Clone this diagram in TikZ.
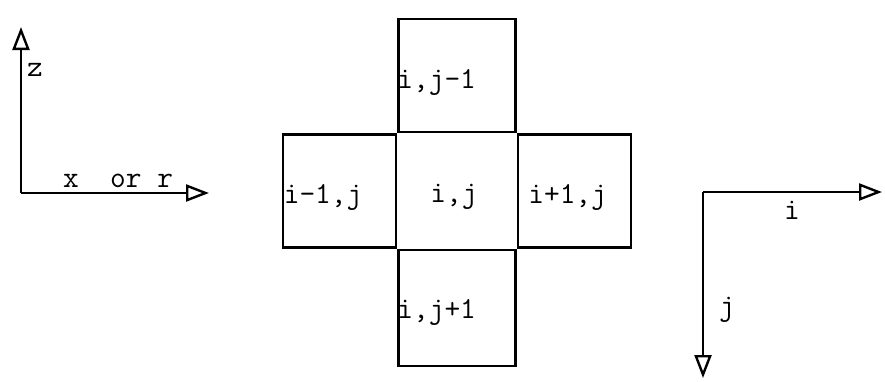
\documentclass[tikz,border=0pt]{standalone}
\usepackage{fontspec}
\usepackage{tikz}
\usetikzlibrary{positioning,arrows.meta}

\tikzset{
  cell/.style={draw, line width=2.6pt, inner sep=0pt, minimum width=117pt, minimum height=113pt},
  axis/.style={line width=2.8pt, -{Triangle[open, length=23pt, width=17pt, line width=2.4pt]}},
  lab/.style={inner sep=0pt}
}

\begin{document}
\begin{tikzpicture}[x=1pt,y=-1pt,font=\fontsize{30.5pt}{34pt}\selectfont\ttfamily]
  \useasboundingbox (0,0) rectangle (885,381);
  % left axes
  \coordinate (o1) at (21,193);
  \coordinate (zend) at (21,27);
  \coordinate (xend) at (209,193);
  \draw[axis] (o1) -- (zend);
  \draw[axis] (o1) -- (xend);
  \node[lab] (zlab) at (35,70) {z};
  \node[lab] (xlab) at (118,181) {x\ \ or r};
  % the cells (the middle one is closed by its neighbours)
  \node[cell, draw=none] (c) at (457,191) {};
  \node[cell, above=0pt of c] (t) {};
  \node[cell, below=0pt of c, minimum height=116pt] (b) {};
  \node[cell, left=0pt of c, minimum width=113pt] (l) {};
  \node[cell, right=0pt of c, minimum width=113pt] (r) {};
  \node[lab] (lc) at ([xshift=-3pt,yshift=-6pt]c) {i,j};
  \node[lab, anchor=west] (lt) at ([yshift=-7pt]t.west) {i,j-1};
  \node[lab, anchor=west] (lb) at ([yshift=-4pt]b.west) {i,j+1};
  \node[lab, anchor=west] (ll) at ([xshift=2pt,yshift=-6pt]l.west) {i-1,j};
  \node[lab] (lr) at ([xshift=-7pt,yshift=-6pt]r) {i+1,j};
  % right axes
  \coordinate (o2) at (703,192);
  \coordinate (iend) at (882,192);
  \coordinate (jend) at (703,378);
  \draw[axis] (o2) -- (iend);
  \draw[axis] (o2) -- (jend);
  \node[lab] (ilab) at (792,210) {i};
  \node[lab] (jlab) at (727,310) {j};
\end{tikzpicture}
\end{document}
